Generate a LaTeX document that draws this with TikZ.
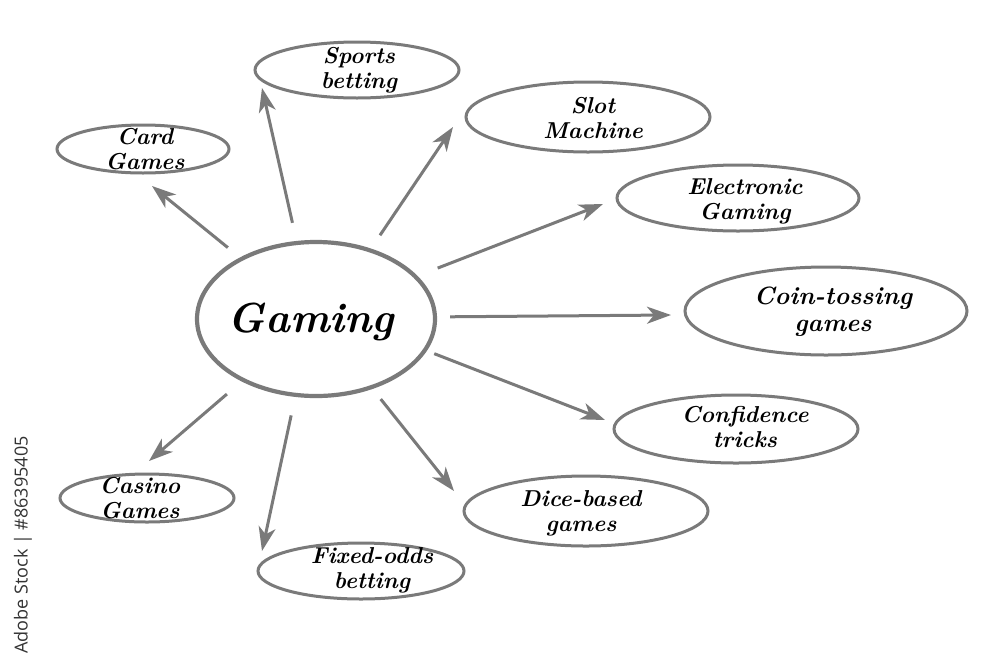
\documentclass[tikz,border=0pt]{standalone}
\usepackage{fontspec}
\newfontfamily\wmfont{Open Sans}
\usetikzlibrary{shapes.geometric,arrows.meta}
\definecolor{linegray}{HTML}{7A7A7A}
\definecolor{wmgray}{HTML}{333333}
\tikzset{
  ell/.style={ellipse, draw=linegray, line width=3pt, inner sep=0pt},
  hub/.style={ellipse, draw=linegray, line width=4.2pt, inner sep=0pt},
  lbl/.style={align=center, font=\fontsize{23}{25}\selectfont\bfseries\itshape, text=black, inner sep=0pt},
  arr/.style={draw=linegray, line width=3pt, -{Stealth[length=24pt,width=17pt,inset=7pt]}},
}
\begin{document}
\begin{tikzpicture}[x=1pt,y=-1pt]
\useasboundingbox (0,0) rectangle (1000,667);
\fill[white] (0,0) rectangle (1000,667);
% hub
\node[hub, minimum width=238pt, minimum height=154pt] (g) at (316,319) {};
\node[font=\fontsize{42}{46}\selectfont\bfseries\itshape, inner sep=0pt] (gT) at (311,322) {Gaming};
% satellites
\node[ell, minimum width=204pt, minimum height=56pt] (sports) at (357,70) {};
\node[lbl] (sportsT) at (359,70) {Sports\\betting};
\node[ell, minimum width=172pt, minimum height=48pt] (card) at (143,149) {};
\node[lbl] (cardT) at (145,149) {Card\\Games};
\node[ell, minimum width=244pt, minimum height=70pt] (slot) at (588,117) {};
\node[lbl] (slotT) at (593,118) {Slot\\Machine};
\node[ell, minimum width=242pt, minimum height=66pt] (elec) at (738,198) {};
\node[lbl] (elecT) at (745,201) {Electronic\\Gaming};
\node[ell, minimum width=282pt, minimum height=88pt] (coin) at (826,311) {};
\node[lbl, font=\fontsize{25}{27}\selectfont\bfseries\itshape] (coinT) at (833,312) {Coin-tossing\\games};
\node[ell, minimum width=244pt, minimum height=68pt] (conf) at (736,429) {};
\node[lbl] (confT) at (745,427) {Confidence\\tricks};
\node[ell, minimum width=244pt, minimum height=70pt] (dice) at (586,511) {};
\node[lbl] (diceT) at (581,513) {Dice-based\\games};
\node[ell, minimum width=206pt, minimum height=56pt] (fixed) at (361,571) {};
\node[lbl] (fixedT) at (372,570) {Fixed-odds\\betting};
\node[ell, minimum width=174pt, minimum height=48pt] (casino) at (147,498) {};
\node[lbl] (casinoT) at (140,498) {Casino\\Games};
% arrow tips (free ends)
\coordinate (tCard) at (152,186);
\coordinate (tSports) at (262,88);
\coordinate (tSlot) at (453,127);
\coordinate (tElec) at (603,204);
\coordinate (tCoin) at (671,315);
\coordinate (tConf) at (605,420);
\coordinate (tDice) at (454,491);
\coordinate (tFixed) at (262,551);
\coordinate (tCasino) at (149,461);
% connectors
\draw[arr, shorten <=15.6pt] (g.141.9) -- (tCard);
\draw[arr, shorten <=18.6pt] (g.104.3) -- (tSports);
\draw[arr, shorten <=16pt] (g.52.9) -- (tSlot);
\draw[arr, shorten <=21.6pt] (g.23.2) -- (tElec);
\draw[arr, shorten <=13.1pt] (g.1.7) -- (tCoin);
\draw[arr, shorten <=7.9pt] (g.-16.3) -- (tConf);
\draw[arr, shorten <=13pt] (g.-51.9) -- (tDice);
\draw[arr, shorten <=18.9pt] (g.-105.5) -- (tFixed);
\draw[arr, shorten <=19.4pt] (g.-140.3) -- (tCasino);
% watermark
\node[rotate=90, font=\wmfont\fontsize{18}{18}\selectfont, text=wmgray, inner sep=0pt] (wm) at (23,545) {Adobe Stock | \#86395405};
\end{tikzpicture}
\end{document}
